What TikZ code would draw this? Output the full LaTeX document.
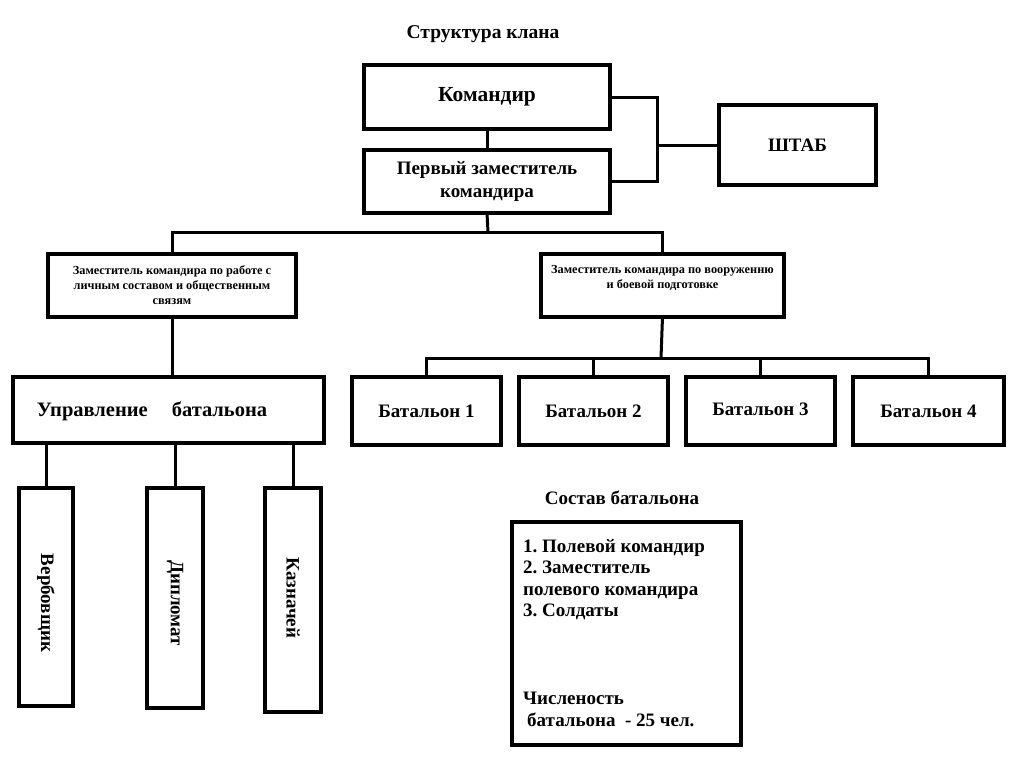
\documentclass[tikz,border=0pt]{standalone}
\usepackage{fontspec}
\setmainfont{Liberation Serif}
\frenchspacing
\begin{document}
\begin{tikzpicture}[x=1bp,y=-1bp,
  box/.style={draw,line width=3.5bp,inner sep=0pt,outer sep=0pt,align=center,font=\bfseries\fontsize{19bp}{23bp}\selectfont},
  small/.style={font=\bfseries\fontsize{12.3bp}{15bp}\selectfont},
  txt/.style={inner sep=0pt,font=\bfseries\fontsize{19bp}{21.5bp}\selectfont},
  conn/.style={line width=3bp}]
\useasboundingbox[fill=white] (0,0) rectangle (1024,768);
\node[txt,font=\bfseries\fontsize{19.5bp}{22bp}\selectfont] (title) at (483,34) {Структура клана};
\node[box,minimum width=246bp,minimum height=64bp,font=\bfseries\fontsize{21.5bp}{24bp}\selectfont] (kom) at (487,97) {Командир};
\node[box,minimum width=246bp,minimum height=63bp] (perv) at (487,181.5) {\raisebox{-3bp}{\begin{tabular}{@{}c@{}}Первый заместитель\\командира\end{tabular}}};
\node[box,minimum width=157bp,minimum height=80bp] (shtab) at (797.5,145) {ШТАБ};
\node[box,small,minimum width=248bp,minimum height=63bp] (ldep) at (172,285.5) {Заместитель командира по работе с\\личным составом и общественным\\связям};
\node[box,small,minimum width=243bp,minimum height=63bp] (rdep) at (662.5,285.5) {Заместитель командира по вооруженню\\и боевой подготовке\\[3bp]};
\node[box,minimum width=311bp,minimum height=66bp] (upr) at (168.5,410) {};
\node[txt,font=\bfseries\fontsize{20.5bp}{22bp}\selectfont] (uprt) at (152,411) {Управление\hspace{24bp}батальона};
\node[box,minimum width=149bp,minimum height=68bp] (b1) at (426.5,411) {Батальон 1};
\node[box,minimum width=149bp,minimum height=68bp] (b2) at (593.5,411) {Батальон 2};
\node[box,minimum width=149bp,minimum height=68bp] (b3) at (760.5,411) {\raisebox{4bp}{Батальон 3}};
\node[box,minimum width=151bp,minimum height=68bp] (b4) at (928.5,411) {Батальон 4};
\node[box,minimum width=54bp,minimum height=218bp] (v1) at (46,597) {};
\node[txt,rotate=-90] (v1t) at (46,603) {Вербовщик};
\node[box,minimum width=56bp,minimum height=220bp] (v2) at (175,598) {};
\node[txt,rotate=-90] (v2t) at (175,603) {Дипломат};
\node[box,minimum width=56bp,minimum height=224bp] (v3) at (293,600) {};
\node[txt,rotate=-90] (v3t) at (293,598) {Казначей};
\node[txt] (stitle) at (622,498) {Состав батальона};
\node[box,minimum width=229bp,minimum height=223bp] (sost) at (626.5,633.5) {};
\node[txt,anchor=north west,align=left] (slist) at (523,539) {1. Полевой командир\\2. Заместитель\\полевого командира\\3. Солдаты};
\node[txt,anchor=north west,align=left] (scount) at (523,692) {Численость\\\hspace{4bp}батальона \ - 25 чел.};
% connectors
\coordinate (br) at (657,145);
\coordinate (t1) at (488,232);
\coordinate (t2) at (661,358);
\draw[conn] (kom.south) -- (perv.north);
\draw[conn] (kom.east) -| (br) |- (perv.east);
\draw[conn] (br) -- (shtab.west);
\draw[conn] (perv.south) -- (t1);
\draw[conn] (ldep.north) |- (t1) -| (rdep.north);
\draw[conn] (ldep.south) -- (ldep.south |- upr.north);
\draw[conn] (rdep.south) -- (t2);
\draw[conn] (b1.north) |- (t2) -| (b4.north);
\draw[conn] (b2.north) -- (b2.north |- t2);
\draw[conn] (b3.north) -- (b3.north |- t2);
\draw[conn] (v1.north) -- (v1.north |- upr.south);
\draw[conn] (v2.north) -- (v2.north |- upr.south);
\draw[conn] (v3.north) -- (v3.north |- upr.south);
\end{tikzpicture}
\end{document}
